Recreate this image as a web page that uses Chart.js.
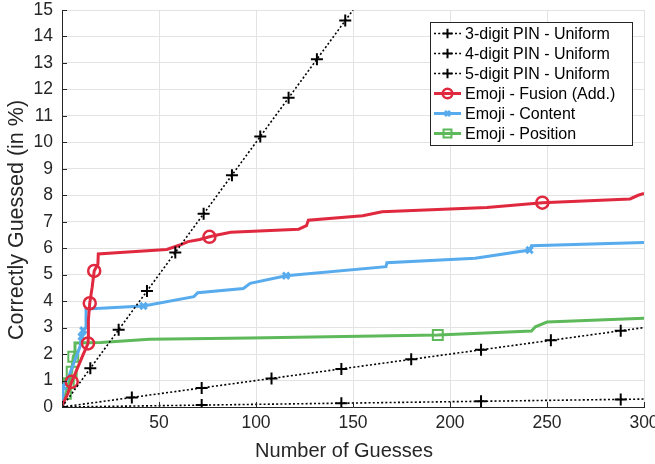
<!DOCTYPE html>
<html>
<head>
<meta charset="utf-8">
<script src="https://cdn.jsdelivr.net/npm/chart.js@4/dist/chart.umd.min.js"></script>
<style>
  html, body { margin: 0; padding: 0; background: #fff; }
  #wrap { width: 655px; height: 464px; position: relative; }
</style>
</head>
<body>
<div id="wrap"><canvas id="c" width="655" height="464"></canvas></div>
<script>
// ---------- DATA ----------
const seriesNames = [
  '3-digit PIN - Uniform',
  '4-digit PIN - Uniform',
  '5-digit PIN - Uniform',
  'Emoji - Fusion (Add.)',
  'Emoji - Content',
  'Emoji - Position'
];
const xTitle = 'Number of Guesses';
const yTitle = 'Correctly Guessed (in %)';
const xTicks = [0, 50, 100, 150, 200, 250, 300];
const yTicks = [0,1,2,3,4,5,6,7,8,9,10,11,12,13,14,15];

const pin3 = [[0,0],[14.6,1.46],[29.2,2.92],[43.8,4.38],[58.4,5.84],[73,7.3],[87.6,8.76],[102.2,10.22],[116.8,11.68],[131.4,13.14],[146,14.6],[150,15]];
const pin3Markers = [0,1,2,3,4,5,6,7,8,9,10];

const pin4 = [[0,0],[36,0.36],[72,0.72],[108,1.08],[144,1.44],[180,1.8],[216,2.16],[252,2.52],[288,2.88],[300,3.0]];
const pin4Markers = [0,1,2,3,4,5,6,7,8];

const pin5 = [[0,0],[72,0.072],[144,0.144],[216,0.216],[288,0.288],[300,0.3]];
const pin5Markers = [0,1,2,3,4];

const fusion = [[0,0],[1,0.2],[3,0.5],[5,0.95],[7,1.3],[9,1.65],[11,2.0],[12.7,2.28],[13.4,2.4],[13.6,2.66],[13.6,3.29],[14.3,3.92],[15.5,4.5],[16.6,5.14],[18.5,5.4],[18.7,5.78],[30,5.84],[54,5.95],[60.8,6.12],[65,6.25],[71,6.33],[76,6.43],[80,6.5],[87,6.6],[122,6.72],[126,6.85],[127,7.06],[155,7.23],[165,7.38],[219,7.54],[247.6,7.72],[292.8,7.86],[297,8.0],[300,8.07]];
const fusionMarkers = [3,8,11,13,21,30];

const content = [[0,0],[0.5,0.78],[2,0.95],[4.1,1.27],[6.7,1.78],[9.3,2.28],[10.1,2.66],[11,2.9],[12.4,3.03],[12.4,3.7],[20,3.73],[42,3.82],[68,4.17],[70,4.32],[93.5,4.48],[97,4.67],[115.5,4.96],[167,5.3],[167.5,5.45],[213,5.62],[241,5.93],[242,6.09],[300,6.22]];
const contentMarkers = [1,6,7,11,16,20];

const position = [[0,0],[2,0.5],[3.5,0.9],[5,1.33],[5.8,1.9],[6.5,2.0],[6.7,2.42],[20,2.44],[45,2.56],[97,2.61],[193.7,2.72],[242,2.87],[244,3.03],[250,3.21],[300,3.35]];
const positionMarkers = [1,2,3,4,10];

// ---------- STYLES ----------
const FONT = '"Liberation Sans", Arial, Helvetica, sans-serif';
const AXIS = '#262626';
const GRID = '#e3e3e3';
const RED = '#e0283f';
const BLUE = '#58abec';
const GREEN = '#5db95a';

const styles = [
  { color: '#000', width: 1.6, dash: [2, 2.2], point: 'cross', r: 6, pw: 2 },
  { color: '#000', width: 1.6, dash: [2, 2.2], point: 'cross', r: 6, pw: 2 },
  { color: '#000', width: 1.6, dash: [2, 2.2], point: 'cross', r: 6, pw: 2 },
  { color: RED, width: 3, dash: [], point: 'circle', r: 6, pw: 2.5 },
  { color: BLUE, width: 3, dash: [], point: 'crossRot', r: 4.5, pw: 3 },
  { color: GREEN, width: 3, dash: [], point: 'rect', r: 7, pw: 2 }
];
const allData = [pin3, pin4, pin5, fusion, content, position];
const allMarkers = [pin3Markers, pin4Markers, pin5Markers, fusionMarkers, contentMarkers, positionMarkers];

const datasets = allData.map((d, i) => {
  const s = styles[i];
  const mk = allMarkers[i];
  return {
    label: seriesNames[i],
    data: d.map(p => ({ x: p[0], y: p[1] })),
    borderColor: s.color,
    borderWidth: s.width,
    borderDash: s.dash,
    backgroundColor: 'rgba(0,0,0,0)',
    pointStyle: s.point,
    pointRadius: ctx => mk.includes(ctx.dataIndex) ? s.r : 0,
    pointBorderWidth: s.pw,
    pointBorderColor: s.color,
    pointBackgroundColor: 'rgba(0,0,0,0)',
    tension: 0,
    fill: false,
    clip: 0
  };
});

// inside tick marks, axis titles, legend
const decorPlugin = {
  id: 'decor',
  afterDraw(chart) {
    const ctx = chart.ctx;
    const xs = chart.scales.x, ys = chart.scales.y;
    const a = chart.chartArea;
    ctx.save();
    ctx.strokeStyle = AXIS;
    ctx.lineWidth = 1;
    ctx.beginPath();
    yTicks.forEach(v => {
      const y = Math.round(ys.getPixelForValue(v)) + 0.5;
      ctx.moveTo(a.left, y); ctx.lineTo(a.left + 5, y);
    });
    xTicks.forEach(v => {
      const x = Math.round(xs.getPixelForValue(v)) + 0.5;
      ctx.moveTo(x, a.bottom); ctx.lineTo(x, a.bottom - 5);
    });
    ctx.stroke();

    // axis titles
    ctx.fillStyle = AXIS;
    ctx.textAlign = 'center';
    ctx.textBaseline = 'middle';
    ctx.font = '20px ' + FONT;
    ctx.fillText(xTitle, 344, 451);
    ctx.save();
    ctx.translate(17, 220);
    ctx.rotate(-Math.PI / 2);
    ctx.font = '21.5px ' + FONT;
    ctx.fillText(yTitle, 0, 0);
    ctx.restore();

    // legend box
    const bx = 430.5, by = 22.5, bw = 202, bh = 123;
    ctx.fillStyle = '#fff';
    ctx.fillRect(bx, by, bw, bh);
    ctx.strokeStyle = AXIS;
    ctx.lineWidth = 1;
    ctx.strokeRect(bx, by, bw, bh);
    ctx.font = '16px ' + FONT;
    ctx.textBaseline = 'middle';
    ctx.textAlign = 'left';
    seriesNames.forEach((name, i) => {
      const s = styles[i];
      const y = 33.5 + 20 * i;
      ctx.save();
      ctx.strokeStyle = s.color;
      ctx.lineWidth = s.width;
      ctx.setLineDash(s.dash);
      ctx.beginPath();
      ctx.moveTo(434, y); ctx.lineTo(461, y);
      ctx.stroke();
      ctx.setLineDash([]);
      ctx.strokeStyle = s.color;
      ctx.fillStyle = 'rgba(0,0,0,0)';
      ctx.lineWidth = s.pw;
      Chart.helpers.drawPoint(ctx, { pointStyle: s.point, radius: s.r * 0.8, borderWidth: s.pw, rotation: 0 }, 447.5, y);
      ctx.restore();
      ctx.fillStyle = '#000';
      ctx.fillText(name, 465, y + 1);
    });
    ctx.restore();
  }
};

new Chart(document.getElementById('c'), {
  type: 'line',
  data: { datasets },
  options: {
    responsive: false,
    animation: false,
    events: [],
    layout: { padding: { left: 0, right: 11, top: 10, bottom: 0 } },
    plugins: { legend: { display: false }, tooltip: { enabled: false } },
    scales: {
      x: {
        type: 'linear',
        min: 0, max: 300,
        afterBuildTicks: sc => { sc.ticks = xTicks.map(v => ({ value: v })); },
        afterFit: sc => { sc.height = 57; sc.paddingLeft = 0; sc.paddingRight = 0; },
        ticks: {
          color: AXIS,
          font: { family: FONT, size: 17.5 },
          padding: 6,
          maxRotation: 0,
          callback: v => v === 0 ? '' : String(v)
        },
        grid: { color: GRID, lineWidth: 1, drawTicks: false },
        border: { display: true, color: AXIS, width: 1 },
        title: { display: false }
      },
      y: {
        type: 'linear',
        min: 0, max: 15,
        afterBuildTicks: sc => { sc.ticks = yTicks.map(v => ({ value: v })); },
        afterFit: sc => { sc.width = 62; sc.paddingTop = 0; sc.paddingBottom = 0; },
        ticks: {
          color: AXIS,
          font: { family: FONT, size: 17.5 },
          padding: 9
        },
        grid: { color: GRID, lineWidth: 1, drawTicks: false },
        border: { display: true, color: AXIS, width: 1 },
        title: { display: false }
      }
    }
  },
  plugins: [decorPlugin]
});
</script>
</body>
</html>
